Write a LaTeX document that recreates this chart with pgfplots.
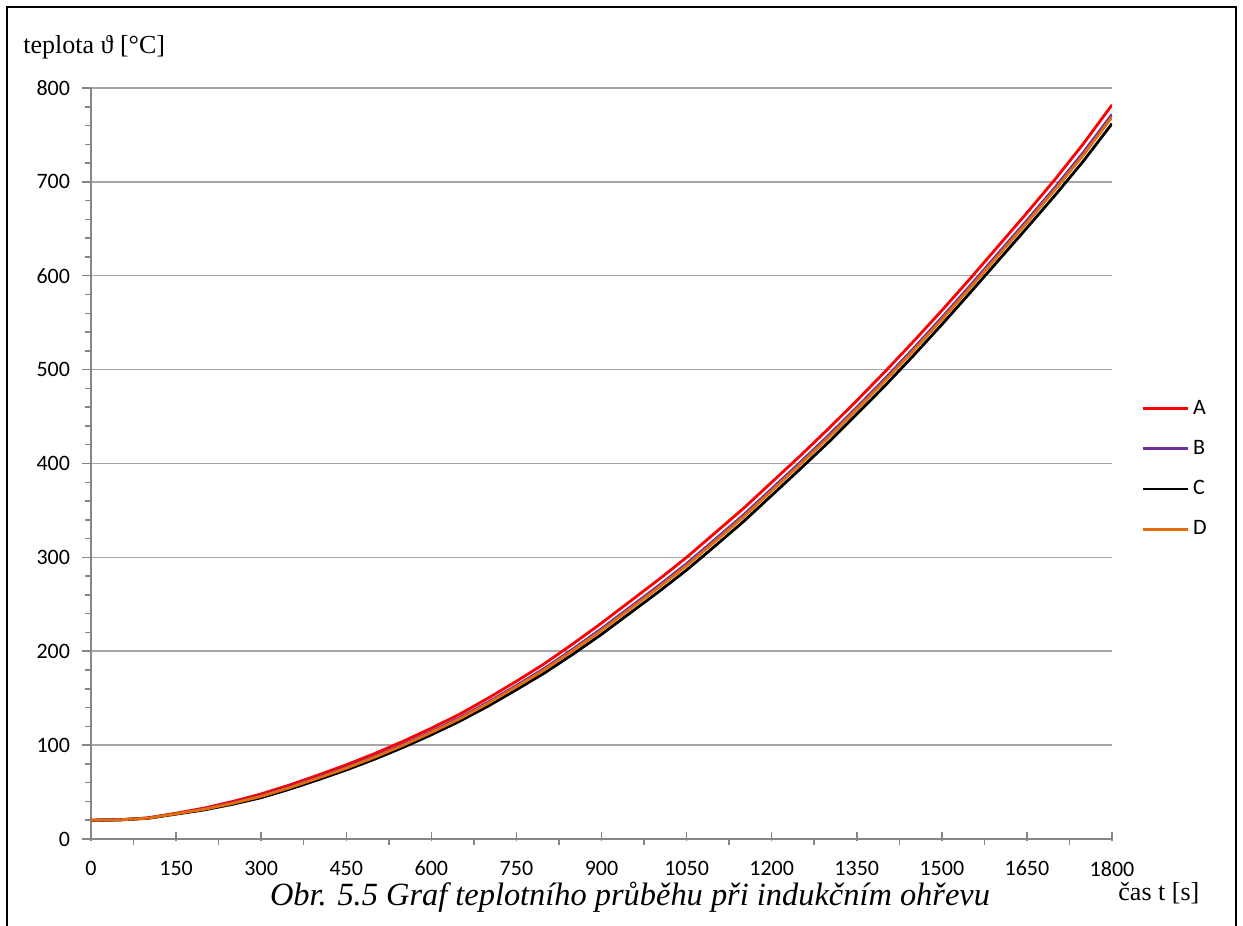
\documentclass[border=0pt]{standalone}
\usepackage{pgfplots}
\pgfplotsset{compat=1.18}
\usepackage{pgfplotstable}
\usepackage{fontspec}
\setmainfont{Liberation Serif}
\newfontfamily\calibri{Carlito}
\definecolor{axgray}{RGB}{134,134,134}
\definecolor{gridgray}{RGB}{165,165,165}
\definecolor{serA}{RGB}{255,0,0}
\definecolor{serB}{RGB}{112,48,160}
\definecolor{serD}{RGB}{228,108,10}
\pgfplotstableread{
t A B C D
0 20 20 20 20
50 20.5 20.5 20.3 20.4
100 22.5 22.3 22 22.2
150 27.5 27 26.5 26.9
200 33 32 31 31.7
250 40 38.5 37 38
300 48 46 44 45.4
350 57.5 55.3 53 54.6
400 68 65.5 63 64.8
450 79 76.3 73.5 75.4
500 91 88 85 87.1
550 104 100.8 97.5 99.8
600 118 114.5 111 113.5
650 133 129.3 125.5 128.1
700 150 145.8 141.5 144.5
750 168 163.5 159 162.2
800 187 182 177 180.5
850 208 202.5 197 200.9
900 230 224 218 222.2
950 253 246.8 240.5 244.9
1000 276 269.5 263 267.6
1050 300 293.3 286.5 291.2
1100 326 319 312 316.9
1150 352 345 338 342.9
1200 380 373 366 370.9
1250 408 401 394 398.9
1300 437 429.8 422.5 427.6
1350 467 459.8 452.5 457.6
1400 498 490.5 483 488.3
1450 530 522.5 515 520.3
1500 563 555.5 548 553.3
1550 597 589.5 582 587.3
1600 632 624.3 616.5 621.9
1650 667 659 651 656.6
1700 703 694.5 686 692
1750 741 731.8 722.5 729
1800 782 772 762 769
}\datatable
\begin{document}
\begin{tikzpicture}
\useasboundingbox (0,0) rectangle (621.5bp,463bp);
\draw[line width=1.1bp] (3.5bp,0) -- (3.5bp,459.5bp) -- (618bp,459.5bp) -- (618bp,0);
\begin{axis}[
  at={(45.5bp,43.5bp)}, anchor=south west,
  scale only axis, width=510.5bp, height=375.5bp,
  xmin=0, xmax=1800, ymin=0, ymax=800,
  axis lines*=left,
  axis line style={axgray, line width=0.75bp},
  xtick={0,150,...,1800}, minor x tick num=1,
  ytick={0,100,...,800}, minor y tick num=4,
  ymajorgrids,
  major grid style={gridgray, line width=0.75bp},
  tick style={axgray, line width=0.75bp},
  tick align=outside,
  major tick length=4.5bp, minor tick length=3bp,
  major x tick style={yshift=3.4bp},
  ticklabel style={font=\calibri\fontsize{11bp}{13bp}\selectfont, text=black},
  xticklabel style={yshift=-3bp},
  yticklabel style={xshift=-2.5bp},
  /pgf/number format/assume math mode=true,
  /pgf/number format/1000 sep={},
  legend style={at={(1,0.5)}, anchor=west, xshift=14.5bp, yshift=-2.75bp, draw=none, fill=none,
    font=\calibri\fontsize{11bp}{13bp}\selectfont, row sep=7.5bp, inner sep=0pt},
  legend cell align=left,
  legend image code/.code={\draw[#1] (0bp,0bp) -- (22.5bp,0bp);},
]
\addplot[serA, line width=1.4bp] table[x=t, y=A] {\datatable};
\addplot[serB, line width=1.4bp] table[x=t, y=B] {\datatable};
\addplot[black, line width=1.4bp] table[x=t, y=C] {\datatable};
\addplot[serD, line width=1.4bp] table[x=t, y=D] {\datatable};
\legend{A,B,C,D}
\end{axis}
\node[anchor=base, inner sep=0pt, font=\itshape\fontsize{16.2bp}{18bp}\selectfont] at (315bp,10.5bp) {Obr. 5.5 Graf teplotního průběhu při indukčním ohřevu};
\node[anchor=base west, inner sep=0pt, font=\fontsize{13bp}{15bp}\selectfont] at (559bp,13bp) {čas t [s]};
\node[anchor=base west, inner sep=0pt, font=\fontsize{13bp}{15bp}\selectfont] at (11.5bp,436bp) {teplota ϑ [°C]};
\end{tikzpicture}
\end{document}
